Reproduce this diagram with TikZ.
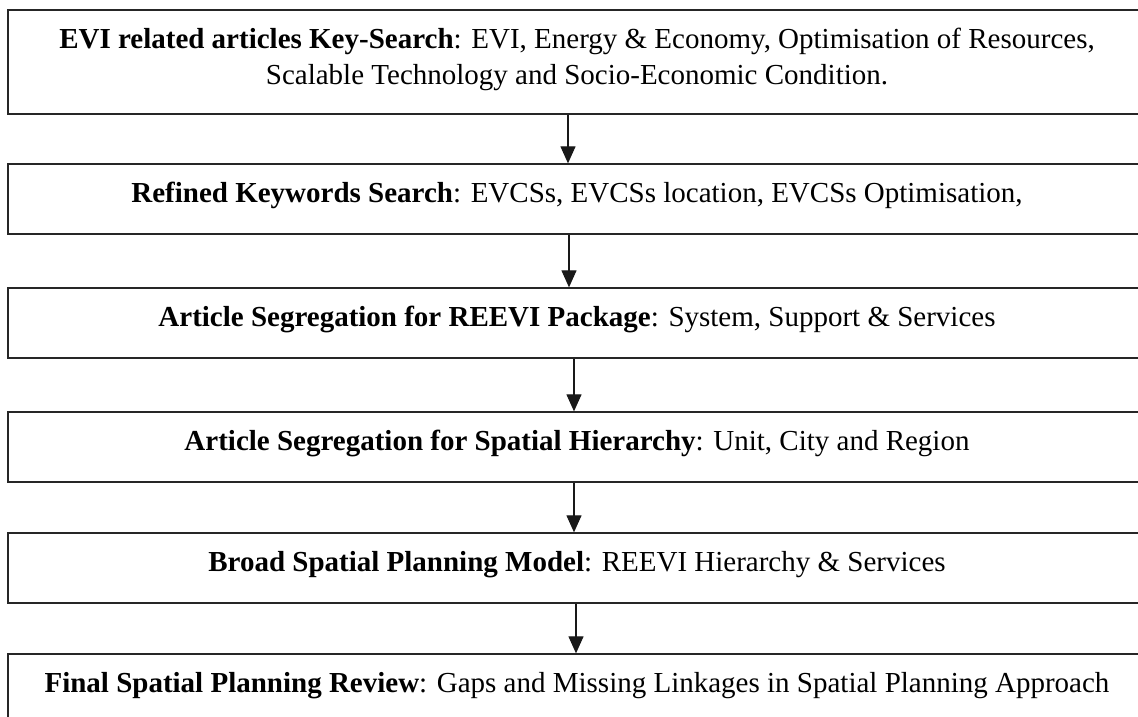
\documentclass[tikz,border=0pt]{standalone}
\usepackage{fontspec}
\setmainfont{Liberation Serif}
\usetikzlibrary{arrows.meta}
\begin{document}
\begin{tikzpicture}[x=1pt,y=-1pt,
  stepbox/.style={draw=black!85, line width=1.3pt, rectangle, inner sep=0pt,
    minimum width=1138pt, minimum height=70pt,
    font=\fontsize{29}{36}\selectfont, align=center,
    text height=18pt, text depth=12pt},
  flow/.style={-{Triangle[width=15pt,length=17pt]}, line width=1.2pt, draw=black!90}]
\useasboundingbox (0,0) rectangle (1138,717);
\clip (0,0) rectangle (1138,717);

% process steps, top to bottom
\node[stepbox, minimum height=104pt, text height=57pt, text depth=12pt] (b1) at (577,62)
  {\textbf{EVI related articles Key-Search}: EVI, Energy \& Economy, Optimisation of Resources,\\
   Scalable Technology and Socio-Economic Condition.};
\node[stepbox] (b2) at (577,199)
  {\textbf{Refined Keywords Search}: EVCSs, EVCSs location, EVCSs Optimisation,};
\node[stepbox] (b3) at (577,323)
  {\textbf{Article Segregation for REEVI Package}: System, Support \& Services};
\node[stepbox] (b4) at (577,447)
  {\textbf{Article Segregation for Spatial Hierarchy}: Unit, City and Region};
\node[stepbox] (b5) at (577,568)
  {\textbf{Broad Spatial Planning Model}: REEVI Hierarchy \& Services};
\node[stepbox] (b6) at (577,689)
  {\textbf{Final Spatial Planning Review}: Gaps and Missing Linkages in Spatial Planning Approach};

% connectors
\draw[flow] ([xshift=-9pt]b1.south) -- ([xshift=-9pt]b2.north);
\draw[flow] ([xshift=-8pt]b2.south) -- ([xshift=-8pt]b3.north);
\draw[flow] ([xshift=-3pt]b3.south) -- ([xshift=-3pt]b4.north);
\draw[flow] ([xshift=-3pt]b4.south) -- ([xshift=-3pt]b5.north);
\draw[flow] ([xshift=-1pt]b5.south) -- ([xshift=-1pt]b6.north);
\end{tikzpicture}
\end{document}
